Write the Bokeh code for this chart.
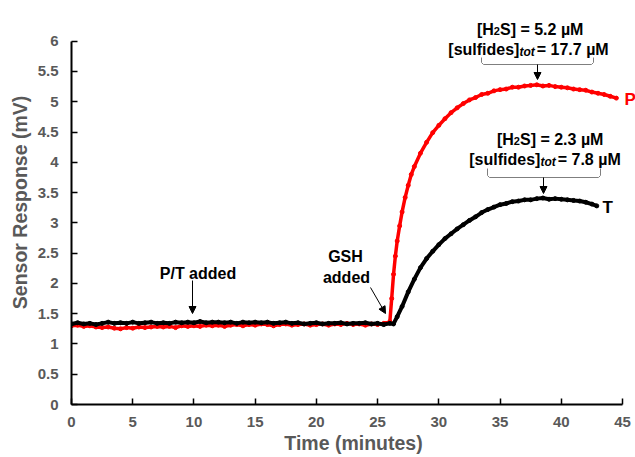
import math
from bokeh.plotting import figure
from bokeh.models import Label, Arrow, NormalHead, FixedTicker, CustomJSTickFormatter, Range1d
from bokeh.embed import file_html
from bokeh.resources import INLINE

# ---------------- data ----------------
p_time = [0.0, 0.5, 1.0, 1.5, 2.0, 2.5, 3.0, 3.5, 4.0, 4.5, 5.0, 5.5, 6.0, 6.5, 7.0, 7.5,
          8.0, 8.5, 9.0, 9.5, 10.0, 10.5, 11.0, 11.5, 12.0, 12.5, 13.0, 13.5, 14.0, 14.5,
          15.0, 15.5, 16.0, 16.5, 17.0, 17.5, 18.0, 18.5, 19.0, 19.5, 20.0, 20.5, 21.0,
          21.5, 22.0, 22.5, 23.0, 23.5, 24.0, 24.5, 25.0, 25.5, 26.0, 26.15, 26.3, 26.45,
          26.6, 26.8, 27.0, 27.25, 27.5, 27.75, 28.0, 28.5, 29.0, 29.5, 30.0, 30.5, 31.0,
          31.5, 32.0, 32.5, 33.0, 33.5, 34.0, 34.5, 35.0, 35.5, 36.0, 36.5, 37.0, 37.5,
          38.0, 38.5, 39.0, 39.5, 40.0, 40.5, 41.0, 41.5, 42.0, 42.5, 43.0, 43.5, 44.0, 44.5]
p_value = [1.30, 1.31, 1.29, 1.30, 1.28, 1.27, 1.28, 1.26, 1.25, 1.27, 1.26, 1.28, 1.27, 1.28,
           1.29, 1.28, 1.29, 1.27, 1.30, 1.29, 1.30, 1.29, 1.31, 1.30, 1.31, 1.29, 1.31, 1.32,
           1.30, 1.32, 1.31, 1.33, 1.32, 1.30, 1.32, 1.33, 1.31, 1.32, 1.33, 1.31, 1.32, 1.33,
           1.31, 1.33, 1.32, 1.34, 1.32, 1.33, 1.31, 1.33, 1.32, 1.34, 1.37, 1.75, 2.15, 2.45,
           2.70, 2.95, 3.18, 3.42, 3.62, 3.80, 3.93, 4.15, 4.33, 4.49, 4.61, 4.72, 4.82, 4.90,
           4.97, 5.03, 5.07, 5.12, 5.14, 5.18, 5.20, 5.21, 5.24, 5.24, 5.26, 5.27, 5.28, 5.26,
           5.27, 5.25, 5.24, 5.23, 5.21, 5.20, 5.19, 5.16, 5.14, 5.12, 5.09, 5.06]

t_time = [0.0, 0.5, 1.0, 1.5, 2.0, 2.5, 3.0, 3.5, 4.0, 4.5, 5.0, 5.5, 6.0, 6.5, 7.0, 7.5,
          8.0, 8.5, 9.0, 9.5, 10.0, 10.5, 11.0, 11.5, 12.0, 12.5, 13.0, 13.5, 14.0, 14.5,
          15.0, 15.5, 16.0, 16.5, 17.0, 17.5, 18.0, 18.5, 19.0, 19.5, 20.0, 20.5, 21.0,
          21.5, 22.0, 22.5, 23.0, 23.5, 24.0, 24.5, 25.0, 25.5, 26.0, 26.3, 26.6, 27.0,
          27.5, 28.0, 28.5, 29.0, 29.5, 30.0, 30.5, 31.0, 31.5, 32.0, 32.5, 33.0, 33.5,
          34.0, 34.5, 35.0, 35.5, 36.0, 36.5, 37.0, 37.5, 38.0, 38.5, 39.0, 39.5, 40.0,
          40.5, 41.0, 41.5, 42.0, 42.5, 42.9]
t_value = [1.33, 1.35, 1.33, 1.34, 1.32, 1.34, 1.36, 1.34, 1.35, 1.34, 1.36, 1.34, 1.35, 1.36,
           1.34, 1.35, 1.34, 1.36, 1.35, 1.36, 1.35, 1.37, 1.35, 1.36, 1.36, 1.35, 1.36, 1.34,
           1.36, 1.35, 1.36, 1.35, 1.36, 1.34, 1.35, 1.36, 1.34, 1.35, 1.33, 1.34, 1.35, 1.33,
           1.34, 1.34, 1.35, 1.33, 1.34, 1.34, 1.35, 1.33, 1.34, 1.32, 1.34, 1.33, 1.45, 1.62,
           1.86, 2.07, 2.26, 2.41, 2.53, 2.64, 2.74, 2.82, 2.90, 2.97, 3.04, 3.10, 3.17, 3.22,
           3.26, 3.30, 3.32, 3.35, 3.36, 3.38, 3.38, 3.40, 3.41, 3.39, 3.40, 3.39, 3.38, 3.37,
           3.36, 3.34, 3.31, 3.28]

x_ticks = [0, 5, 10, 15, 20, 25, 30, 35, 40, 45]
y_ticks = [0, 0.5, 1, 1.5, 2, 2.5, 3, 3.5, 4, 4.5, 5, 5.5, 6]

x_title = "Time (minutes)"
y_title = "Sensor Response (mV)"

# ---------------- figure ----------------
FONT = "Liberation Sans"
GRAY = "#595959"
W, H = 635, 457
LEFT, BOTTOM = 71, 404          # canvas px of (0, 0)
PX_X = 551.0 / 45.0             # pixels per minute
PX_Y = 363.3 / 6.0              # pixels per mV
x_end = 45 + (W - 622) / PX_X
y_end = BOTTOM / PX_Y

p = figure(width=W, height=H, output_backend="svg", toolbar_location=None,
           x_range=Range1d(0, x_end), y_range=Range1d(0, y_end),
           min_border_left=LEFT, min_border_right=0, min_border_top=0,
           min_border_bottom=H - BOTTOM)
p.outline_line_color = None
p.grid.visible = False
p.background_fill_color = "white"
p.border_fill_color = "white"

p.xaxis.bounds = (0, 45)
p.yaxis.bounds = (0, 6)
for ax, ticks in ((p.xaxis, x_ticks), (p.yaxis, y_ticks)):
    ax.ticker = FixedTicker(ticks=ticks)
    ax.formatter = CustomJSTickFormatter(code="return String(Math.round(tick*10)/10);")
    ax.axis_line_color = "black"
    ax.axis_line_width = 2
    ax.major_tick_line_color = "black"
    ax.major_tick_line_width = 1.5
    ax.major_tick_in = 6
    ax.major_tick_out = 0
    ax.minor_tick_line_color = None
    ax.major_label_text_font = FONT
    ax.major_label_text_font_style = "bold"
    ax.major_label_text_font_size = "15px"
    ax.major_label_text_color = GRAY
    ax.axis_label_text_font = FONT
    ax.axis_label_text_font_style = "bold"
    ax.axis_label_text_font_size = "19.5px"
    ax.axis_label_text_color = GRAY
p.xaxis.axis_label = x_title
p.yaxis.axis_label = y_title
p.yaxis.major_label_standoff = 13
p.xaxis.major_label_standoff = 12
p.xaxis.axis_label_standoff = 2
p.yaxis.axis_label_standoff = 4

# series
p.line(p_time, p_value, line_color="#FF0000", line_width=3.5)
p.scatter(p_time, p_value, size=4, color="#FF0000")
p.line(t_time, t_value, line_color="black", line_width=4)
p.scatter(t_time, t_value, size=4, color="black")


def dx(px):
    return (px - LEFT) / PX_X


def dy(py):
    return (BOTTOM - py) / PX_Y


def lab(x, y, text, size, style="bold", color="black", align="center", baseline="middle",
        angle=0.0, x_offset=0):
    p.add_layout(Label(x=x, y=y, text=text, text_font=FONT, text_font_size=f"{size}px",
                       text_font_style=style, text_color=color, text_align=align,
                       text_baseline=baseline, angle=angle, x_offset=x_offset))


# arrow-head annotations
lab(dx(197.5), dy(273), "P/T added", 16)
lab(dx(345), dy(256), "GSH", 16)
lab(dx(346), dy(277), "added", 16)
lab(dx(624), dy(99), "P", 17, color="#FF0000", align="left")
lab(dx(602), dy(207), "T", 17, align="left")

for (xs, ys, xe, ye) in ((dx(192), dy(280), dx(192), dy(313)),
                         (dx(370), dy(287), dx(385), dy(313)),
                         (dx(537), dy(64), dx(537), dy(79)),
                         (dx(543), dy(177), dx(543), dy(193))):
    p.add_layout(Arrow(end=NormalHead(size=7, fill_color="black", line_color="black"),
                       x_start=xs, y_start=ys, x_end=xe, y_end=ye,
                       line_color="black", line_width=1))

# brackets
for (x0, x1, ytop, ybot) in ((481, 593, 57, 64), (487, 600, 168, 177)):
    bx = [dx(x0), dx(x0), dx(x0 + 2), dx(x1 - 2), dx(x1), dx(x1)]
    by = [dy(ytop), dy(ybot - 2), dy(ybot), dy(ybot), dy(ybot - 2), dy(ytop)]
    p.line(bx, by, line_color="#7f7f7f", line_width=1)

# rich text (subscripts)
WID = {' ': 278, '[': 333, ']': 333, 'H': 722, 'S': 667, '=': 584, '.': 278, 'µ': 611,
       'M': 833, 's': 556, 'u': 611, 'l': 278, 'f': 333, 'i': 278, 'd': 611, 'e': 556,
       't': 333, 'o': 611}


def tw(s, size):
    return sum(WID.get(c, 556) for c in s) * size / 1000.0


def rich(cx, base_py, pieces):
    total = sum(tw(t, s) + g for t, s, _, _, g in pieces)
    off = -total / 2.0
    for text, size, style, dpy, gap in pieces:
        lab(dx(cx), dy(base_py + dpy), text, size, style=style, align="left",
            baseline="alphabetic", x_offset=off)
        off += tw(text, size) + gap


rich(530, 28.5, [("[H", 16, "bold", 0, 0), ("2", 11, "bold", 2, 0),
                 ("S] = 5.2 µM", 16, "bold", 0, 0)])
rich(530.5, 49, [("[sulfides]", 16, "bold", 0, 0), ("tot", 12, "bold italic", 2, 2),
                 (" = 17.7 µM", 16, "bold", 0, 0)])
rich(550, 138.5, [("[H", 16, "bold", 0, 0), ("2", 11, "bold", 2, 0),
                  ("S] = 2.3 µM", 16, "bold", 0, 0)])
rich(547, 159, [("[sulfides]", 16, "bold", 0, 0), ("tot", 12, "bold italic", 2, 2),
                (" = 7.8 µM", 16, "bold", 0, 0)])

open("out.html", "w").write(file_html(p, INLINE))
